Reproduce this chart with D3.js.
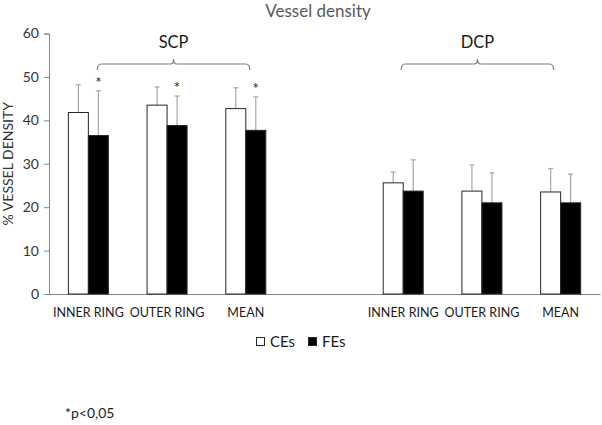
<!DOCTYPE html>
<html>
<head>
<meta charset="utf-8">
<title>Vessel density</title>
<script src="https://d3js.org/d3.v7.min.js"></script>
<style>
  body { margin: 0; background: #fff; }
  svg { display: block; font-family: Lato, "Open Sans", sans-serif; }
</style>
</head>
<body>
<svg width="602" height="425"></svg>
<script>
// regions and ring categories
var plexuses = ['SCP', 'DCP'];
var rings = ['INNER RING', 'OUTER RING', 'MEAN'];
var yTicks = [0, 10, 20, 30, 40, 50, 60];

// mean vessel density (%) per plexus, in ring order
var ceSCP = [41.8, 43.5, 42.7];
var feSCP = [36.5, 38.8, 37.7];
var ceDCP = [25.6, 23.7, 23.5];
var feDCP = [23.7, 21.0, 21.0];

// standard deviations (upper error bars)
var ceSdSCP = [6.4, 4.2, 4.8];
var feSdSCP = [10.3, 6.8, 7.7];
var ceSdDCP = [2.5, 6.0, 5.4];
var feSdDCP = [7.2, 6.9, 6.6];

// p<0.05 flags for FEs
var starSCP = [true, true, true];
var starDCP = [false, false, false];

var groups = ['CEs', 'FEs'];
var colors = { CEs: '#ffffff', FEs: '#000000' };

// build rows
var rows = [];
rings.forEach(function(r, i) {
  rows.push({ plexus: 'SCP', ring: r, key: 'SCP|' + r,
    CEs: ceSCP[i], FEs: feSCP[i], sdCEs: ceSdSCP[i], sdFEs: feSdSCP[i], star: starSCP[i] });
});
rings.forEach(function(r, i) {
  rows.push({ plexus: 'DCP', ring: r, key: 'DCP|' + r,
    CEs: ceDCP[i], FEs: feDCP[i], sdCEs: ceSdDCP[i], sdFEs: feSdDCP[i], star: starDCP[i] });
});

// slot list includes an empty gap between the two plexuses
var slots = rows.slice(0, 3).map(function(d) { return d.key; })
  .concat(['gap'])
  .concat(rows.slice(3).map(function(d) { return d.key; }));

var svg = d3.select('svg');
var plotLeft = 49, plotRight = 600, plotTop = 33.5, plotBottom = 294;

var x = d3.scaleBand().domain(slots).range([plotLeft, plotRight]).padding(0);
var xSub = d3.scaleBand().domain(groups)
  .range([(x.bandwidth() - 40) / 2, (x.bandwidth() + 40) / 2]).padding(0);
var y = d3.scaleLinear().domain([0, 60]).range([plotBottom, plotTop]);

// title
svg.append('text')
  .attr('x', 318).attr('y', 17)
  .attr('text-anchor', 'middle')
  .attr('font-size', 17)
  .attr('fill', '#595959')
  .text('Vessel density');

// y axis
var yAxis = svg.append('g')
  .attr('transform', 'translate(' + plotLeft + ',0)')
  .call(d3.axisLeft(y).tickValues(yTicks).tickSize(5).tickPadding(5));
yAxis.select('.domain').attr('stroke', '#868686');
yAxis.selectAll('.tick line').attr('stroke', '#868686');
yAxis.selectAll('.tick text')
  .attr('font-size', 14)
  .attr('font-family', 'Lato, sans-serif')
  .attr('fill', '#333333');

svg.append('text')
  .attr('transform', 'translate(13,' + (plotTop + plotBottom) / 2 + ') rotate(-90)')
  .attr('text-anchor', 'middle')
  .attr('font-size', 14)
  .attr('fill', '#333333')
  .text('% VESSEL DENSITY');

// x axis line
var xAxis = svg.append('g')
  .attr('transform', 'translate(0,' + plotBottom + ')')
  .call(d3.axisBottom(x).tickSize(0).tickPadding(14)
    .tickFormat(function(k) { return k === 'gap' ? '' : k.split('|')[1]; }));
xAxis.select('.domain').attr('stroke', '#868686');
xAxis.selectAll('.tick text')
  .attr('font-size', 12.5)
  .attr('font-family', 'Lato, sans-serif')
  .attr('fill', '#1a1a1a');

// bars
var cat = svg.selectAll('.cat')
  .data(rows)
  .enter().append('g')
  .attr('class', 'cat')
  .attr('transform', function(d) { return 'translate(' + x(d.key) + ',0)'; });

var bars = cat.selectAll('.bar')
  .data(function(d) {
    return groups.map(function(g) {
      return { group: g, value: d[g], sd: d['sd' + g], star: g === 'FEs' && d.star };
    });
  })
  .enter().append('g')
  .attr('class', 'bar');

// error bars (upper only)
bars.append('line')
  .attr('x1', function(d) { return xSub(d.group) + xSub.bandwidth() / 2; })
  .attr('x2', function(d) { return xSub(d.group) + xSub.bandwidth() / 2; })
  .attr('y1', function(d) { return y(d.value); })
  .attr('y2', function(d) { return y(d.value + d.sd); })
  .attr('stroke', '#a6a6a6')
  .attr('stroke-width', 1.2);
bars.append('line')
  .attr('x1', function(d) { return xSub(d.group) + xSub.bandwidth() / 2 - 2.5; })
  .attr('x2', function(d) { return xSub(d.group) + xSub.bandwidth() / 2 + 2.5; })
  .attr('y1', function(d) { return y(d.value + d.sd); })
  .attr('y2', function(d) { return y(d.value + d.sd); })
  .attr('stroke', '#a6a6a6')
  .attr('stroke-width', 1.2);

bars.append('rect')
  .attr('x', function(d) { return xSub(d.group); })
  .attr('y', function(d) { return y(d.value); })
  .attr('width', xSub.bandwidth())
  .attr('height', function(d) { return y(0) - y(d.value); })
  .attr('fill', function(d) { return colors[d.group]; })
  .attr('stroke', '#262626')
  .attr('stroke-width', 1);

bars.filter(function(d) { return d.star; })
  .append('text')
  .attr('x', function(d) { return xSub(d.group) + xSub.bandwidth() / 2; })
  .attr('y', function(d) { return y(d.value + d.sd) - 3; })
  .attr('text-anchor', 'middle')
  .attr('font-size', 15)
  .attr('fill', '#262626')
  .text('*');

// brackets over each plexus (offsets from first/last slot centre)
var bracketOffsets = { SCP: [9, 4], DCP: [-2, -7] };
plexuses.forEach(function(p) {
  var keys = rows.filter(function(d) { return d.plexus === p; }).map(function(d) { return d.key; });
  var x0 = x(keys[0]) + x.bandwidth() / 2 + bracketOffsets[p][0];
  var x1 = x(keys[2]) + x.bandwidth() / 2 + bracketOffsets[p][1];
  var xm = (x0 + x1) / 2;
  var yb = 64;
  var path = 'M' + x0 + ',' + (yb + 6) +
    ' Q' + x0 + ',' + yb + ' ' + (x0 + 4) + ',' + yb +
    ' L' + (xm - 3) + ',' + yb +
    ' Q' + xm + ',' + yb + ' ' + xm + ',' + (yb - 5) +
    ' Q' + xm + ',' + yb + ' ' + (xm + 3) + ',' + yb +
    ' L' + (x1 - 4) + ',' + yb +
    ' Q' + x1 + ',' + yb + ' ' + x1 + ',' + (yb + 6);
  svg.append('path')
    .attr('d', path)
    .attr('fill', 'none')
    .attr('stroke', '#7f7f7f')
    .attr('stroke-width', 1.2);
  svg.append('text')
    .attr('x', xm).attr('y', 48)
    .attr('text-anchor', 'middle')
    .attr('font-size', 16.5)
    .attr('fill', '#1a1a1a')
    .text(p);
});

// legend
var legend = svg.append('g').attr('transform', 'translate(256,337)');
groups.forEach(function(g, i) {
  var lg = legend.append('g').attr('transform', 'translate(' + i * 52 + ',0)');
  lg.append('rect')
    .attr('x', 0.5).attr('y', 0.5)
    .attr('width', 8).attr('height', 8)
    .attr('fill', colors[g])
    .attr('stroke', '#262626');
  lg.append('text')
    .attr('x', 14).attr('y', 9.5)
    .attr('font-size', 15)
    .attr('fill', '#1a1a1a')
    .text(g);
});

// footnote
svg.append('text')
  .attr('x', 65).attr('y', 418)
  .attr('font-size', 14)
  .attr('fill', '#1a1a1a')
  .text('*p<0,05');
</script>
</body>
</html>
